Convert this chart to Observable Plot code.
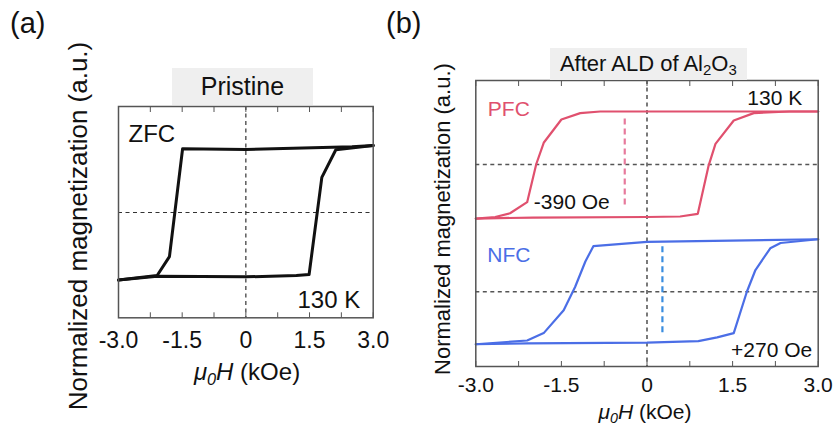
<!DOCTYPE html>
<html><head><meta charset="utf-8">
<script src="https://cdn.jsdelivr.net/npm/d3@7"></script>
<script src="https://cdn.jsdelivr.net/npm/@observablehq/plot@0.6"></script>
<style>
body{margin:0;background:#fff;font-family:"Liberation Sans",Arial,Helvetica,sans-serif;color:#111}
#wrap{position:relative;width:833px;height:428px;overflow:hidden;background:#fff}
#wrap svg{position:absolute;top:0;overflow:visible}
.lbl{position:absolute;white-space:nowrap;line-height:1}
.box{position:absolute;background:#efefef;text-align:center;white-space:nowrap}
.rot{position:absolute;white-space:nowrap;line-height:1;transform:translate(-50%,-50%) rotate(-90deg)}
.xl{position:absolute;white-space:nowrap;line-height:1;transform:translateX(-50%)}
sub{font-size:0.68em;vertical-align:-0.3em;line-height:0}
</style></head><body>
<div id="wrap"></div>
<script>
// ---- data: [field H (kOe), normalized magnetization M] ----
const zfcDown = [[3.0,1.03],[2.5,1.01],[0,0.97],[-1.49,0.98],[-1.80,-0.68],[-2.09,-0.97],[-3.0,-1.04]];
const zfcUp   = [[-3.0,-1.04],[-2.09,-0.98],[0,-0.99],[1.19,-0.97],[1.49,-0.954],[1.79,0.54],[2.12,0.965],[3.0,1.03]];

const pfcDown = [[3.0,1.0],[-0.82,1.0],[-1.17,0.97],[-1.50,0.85],[-1.81,0.41],[-1.94,0.01],[-2.10,-0.71],[-2.40,-0.92],[-2.66,-0.99],[-3.0,-1.02]];
const pfcUp   = [[-3.0,-1.02],[-2.0,-1.0],[0,-0.99],[0.58,-0.98],[0.89,-0.93],[1.08,-0.02],[1.20,0.39],[1.52,0.83],[1.87,0.97],[2.5,1.0],[3.0,1.0]];

const nfcDown = [[3.0,0.99],[0,0.94],[-0.94,0.86],[-1.08,0.57],[-1.26,0.09],[-1.46,-0.35],[-1.81,-0.78],[-2.10,-0.92],[-3.0,-0.99]];
const nfcUp   = [[-3.0,-0.99],[-2.1,-0.975],[0,-0.96],[0.9,-0.93],[1.23,-0.86],[1.52,-0.78],[1.75,0],[1.90,0.41],[2.16,0.82],[2.34,0.92],[3.0,0.99]];

const seriesNames = ["PFC","NFC"];
const seriesOffset = [1.2, -1.2];          // vertical stacking of the two loops
const exchangeBias = [-0.39, 0.27];        // kOe (-390 Oe, +270 Oe)
const biasMarkTop = [0.86, 0.85];
const biasMarkBottom = [-0.81, -0.84];
const biasLabels = ["-390 Oe", "+270 Oe"];

const majorTicks = [-3, -1.5, 0, 1.5, 3];
const minorTicks = [-3, -2.25, -1.5, -0.75, 0, 0.75, 1.5, 2.25, 3];

const RED = "#e0506e", BLUE = "#4b6ee6", RED_D = "#e77a9c", BLUE_D = "#3a8ddf";
const fmt = d => d === 0 ? "0" : d.toFixed(1);
const font = '"Liberation Sans", Arial, Helvetica, sans-serif';

// ---- build tables ----
const zfc = [...zfcDown.map(([h,m]) => ({h, m, b:"down"})), ...zfcUp.map(([h,m]) => ({h, m, b:"up"}))];
const loops = [];
[[pfcDown, pfcUp], [nfcDown, nfcUp]].forEach(([dn, up], i) => {
  dn.forEach(([h,m]) => loops.push({s: seriesNames[i], b: "down", h, m: m + seriesOffset[i]}));
  up.forEach(([h,m]) => loops.push({s: seriesNames[i], b: "up", h, m: m + seriesOffset[i]}));
});
const bias = seriesNames.map((s, i) => ({s, h: exchangeBias[i], y1: biasMarkTop[i] + seriesOffset[i], y2: biasMarkBottom[i] + seriesOffset[i]}));

const wrap = document.getElementById("wrap");

// ---- panel (a) ----
const plotA = Plot.plot({
  width: 420, height: 428,
  marginLeft: 118, marginRight: 47.3, marginTop: 106, marginBottom: 110.7,
  x: {domain: [-3, 3]},
  y: {domain: [-1.62, 1.63], axis: null},
  style: {fontFamily: font, color: "#111", background: "transparent", overflow: "visible"},
  marks: [
    Plot.ruleY([0], {stroke: "#333", strokeDasharray: "4,3.5", strokeWidth: 1.2}),
    Plot.ruleX([0], {stroke: "#333", strokeDasharray: "4,3.5", strokeWidth: 1.2}),
    Plot.line(zfc, {x: "h", y: "m", z: "b", stroke: "#111", strokeWidth: 3}),
    Plot.frame({stroke: "#555", strokeWidth: 1.5}),
    Plot.axisX(minorTicks, {anchor: "bottom", tickSize: -5, fill: "none", stroke: "#555", label: null}),
    Plot.axisX(minorTicks, {anchor: "top", tickSize: -5, fill: "none", stroke: "#555", label: null}),
    Plot.axisX(majorTicks, {anchor: "bottom", tickSize: 0, tickPadding: 14, tickFormat: fmt, fontSize: 23, fill: "#111", label: null}),
    Plot.text(["ZFC"], {text: d => d, frameAnchor: "top-left", lineAnchor: "top", textAnchor: "start", dx: 10, dy: 18, fontSize: 24, fill: "#111"}),
    Plot.text(["130 K"], {text: d => d, frameAnchor: "bottom-right", lineAnchor: "top", textAnchor: "end", dx: -13, dy: -27, fontSize: 24, fill: "#111"})
  ]
});
plotA.style.left = "0px";
wrap.appendChild(plotA);

// ---- panel (b) ----
const plotB = Plot.plot({
  width: 413, height: 428,
  marginLeft: 55.3, marginRight: 15.3, marginTop: 80, marginBottom: 62,
  x: {domain: [-3, 3]},
  y: {domain: [-2.61, 2.785], axis: null},
  color: {domain: seriesNames, range: [RED, BLUE]},
  style: {fontFamily: font, color: "#111", background: "transparent", overflow: "visible"},
  marks: [
    Plot.ruleY(seriesOffset, {stroke: "#555", strokeDasharray: "4,3.5", strokeWidth: 1.3}),
    Plot.ruleX([0], {stroke: "#222", strokeDasharray: "4,3.5", strokeWidth: 1.2}),
    Plot.ruleX(bias, {x: "h", y1: "y1", y2: "y2", stroke: (d, i) => i === 0 ? RED_D : BLUE_D, strokeWidth: 2.2, strokeDasharray: "6,4"}),
    Plot.line(loops, {x: "h", y: "m", z: d => d.s + d.b, stroke: "s", strokeWidth: 2.2}),
    Plot.frame({stroke: "#555", strokeWidth: 1.5}),
    Plot.axisX(minorTicks, {anchor: "bottom", tickSize: -5, fill: "none", stroke: "#555", label: null}),
    Plot.axisX(minorTicks, {anchor: "top", tickSize: -5, fill: "none", stroke: "#555", label: null}),
    Plot.axisX(majorTicks, {anchor: "bottom", tickSize: 0, tickPadding: 10.5, tickFormat: fmt, fontSize: 21, fill: "#111", label: null}),
    Plot.text([seriesNames[0]], {text: d => d, frameAnchor: "top-left", lineAnchor: "top", dx: 12, dy: 20.7, fontSize: 21, fill: RED}),
    Plot.text([seriesNames[1]], {text: d => d, frameAnchor: "top-left", lineAnchor: "top", dx: 11.5, dy: 166.5, fontSize: 21, fill: BLUE}),
    Plot.text(["130 K"], {text: d => d, frameAnchor: "top-right", lineAnchor: "top", textAnchor: "end", dx: -16, dy: 9.5, fontSize: 21, fill: "#111"}),
    Plot.text([biasLabels[0]], {text: d => d, frameAnchor: "top-left", lineAnchor: "top", textAnchor: "start", dx: 58, dy: 113.3, fontSize: 21, fill: "#111"}),
    Plot.text([biasLabels[1]], {text: d => d, frameAnchor: "bottom-right", lineAnchor: "top", textAnchor: "end", dx: -6, dy: -24.3, fontSize: 21, fill: "#111"})
  ]
});
plotB.style.left = "420px";
wrap.appendChild(plotB);

// ---- html text ----
function add(cls, html, css) {
  const d = document.createElement("div");
  d.className = cls; d.innerHTML = html;
  Object.assign(d.style, css);
  wrap.appendChild(d);
}
add("lbl", "(a)", {left: "10px", top: "9px", fontSize: "29px"});
add("lbl", "(b)", {left: "386px", top: "9px", fontSize: "29px"});
add("box", "Pristine", {left: "172px", top: "67.7px", width: "141px", height: "37px", lineHeight: "37px", fontSize: "25px"});
add("box", "After ALD of Al<sub>2</sub>O<sub>3</sub>", {left: "550px", top: "48.3px", width: "196.7px", height: "31.7px", lineHeight: "32px", fontSize: "22px"});
add("rot", "Normalized magnetization (a.u.)", {left: "78px", top: "226px", fontSize: "26px"});
add("rot", "Normalized magnetization (a.u.)", {left: "443px", top: "219px", fontSize: "22px"});
add("xl", "<i>μ<sub>0</sub>H</i> (kOe)", {left: "247px", top: "360px", fontSize: "24px"});
add("xl", "<i>μ<sub>0</sub>H</i> (kOe)", {left: "645px", top: "401.3px", fontSize: "21px"});
</script>
</body></html>
